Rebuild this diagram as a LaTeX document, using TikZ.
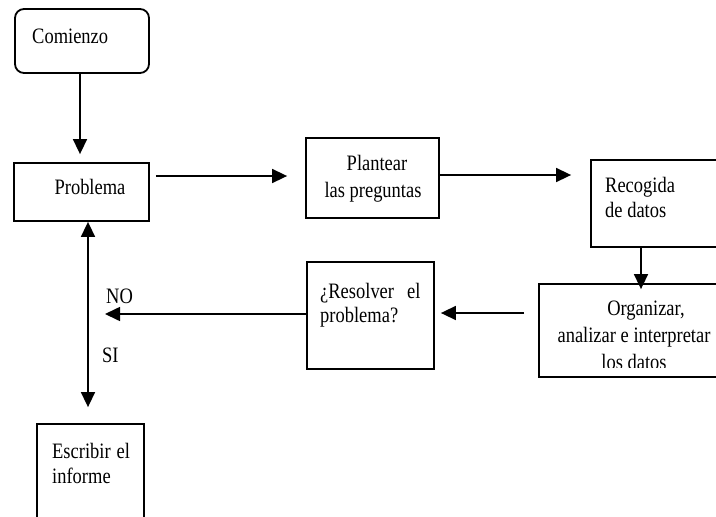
\documentclass[tikz,border=0pt]{standalone}
\usepackage{fontspec}
\setmainfont[FakeStretch=0.84]{Liberation Serif}
\usetikzlibrary{arrows.meta}

\tikzset{
  box/.style={draw=black, line width=1.8pt, inner sep=0pt},
  txt/.style={inner sep=0pt, font=\fontsize{22}{26}\selectfont},
  arr/.style={draw=black, line width=1.6pt, -{Triangle[length=15pt,width=14pt]}},
  biarr/.style={draw=black, line width=1.6pt, {Triangle[length=15pt,width=14pt]}-{Triangle[length=15pt,width=14pt]}}
}

\begin{document}
\begin{tikzpicture}[x=1pt,y=-1pt]
  \useasboundingbox (0,0) rectangle (716,517);
  \fill[white] (0,0) rectangle (716,517);
  \clip (0,0) rectangle (716,517);

  % boxes
  \node[box, rounded corners=9pt, minimum width=134pt, minimum height=64pt] (comienzo) at (82,41) {};
  \node[box, minimum width=135pt, minimum height=58pt] (problema) at (81.5,192) {};
  \node[box, minimum width=133pt, minimum height=80pt] (plantear) at (372.5,178) {};
  \node[box, minimum width=149pt, minimum height=87pt] (recogida) at (665.5,203.5) {};
  \node[box, minimum width=201pt, minimum height=93pt] (organizar) at (639.5,330.5) {};
  \node[box, minimum width=127pt, minimum height=107pt] (resolver) at (370.5,315.5) {};
  \node[box, minimum width=107pt, minimum height=116pt] (escribir) at (90.5,482) {};

  % box texts (multi-line nodes are anchored at the baseline of their last line)
  \node[txt, anchor=base west] (tcomienzo) at (32,43) {Comienzo};
  \node[txt, anchor=base] (tproblema) at (90,194) {Problema};
  \node[txt, anchor=base, align=center, font=\fontsize{22}{27}\selectfont] (tplantear) at (373,197) {\hspace*{8pt}Plantear\\las preguntas};
  \node[txt, anchor=base west, align=left, font=\fontsize{22}{25}\selectfont] (trecogida) at (605,217) {Recogida\\de datos};
  \begin{scope}
    \clip (540,285) rectangle (716,367);
    \node[txt, anchor=base, align=center, font=\fontsize{22}{27}\selectfont] (torganizar) at (634,369) {\hspace*{24pt}Organizar,\\analizar e interpretar\\los datos};
  \end{scope}
  \node[txt, anchor=base west, align=left, font=\fontsize{22}{24}\selectfont] (tresolver) at (320,322) {¿Resolver\hspace{13pt}el\\problema?};
  \node[txt, anchor=base west, align=left, font=\fontsize{22}{25}\selectfont] (tescribir) at (52,483) {Escribir\hspace{6pt}el\\informe};

  % branch labels
  \node[txt, anchor=base west] (no) at (106,303) {NO};
  \node[txt, anchor=base west] (si) at (102,362) {SI};

  % connectors
  \coordinate (noend) at (105,314);
  \draw[arr, shorten >=8pt] ([xshift=-2pt]comienzo.south) -- ([xshift=-1.5pt]problema.north);
  \draw[arr, shorten <=6pt, shorten >=18pt] ([yshift=16pt]problema.east) -- ([yshift=2pt]plantear.west);
  \draw[arr, shorten >=19pt] ([yshift=3pt]plantear.east) -- ([yshift=28.5pt]recogida.west);
  \draw[arr, shorten >=-6pt] ([xshift=-24.5pt]recogida.south) -- ([xshift=1.5pt]organizar.north);
  \draw[arr, shorten <=14pt, shorten >=6pt] ([yshift=17.5pt]organizar.west) -- ([yshift=2.5pt]resolver.east);
  \draw[arr] ([yshift=1.5pt]resolver.west) -- (noend);
  \draw[biarr, shorten >=16pt] ([xshift=6.5pt]problema.south) -- ([xshift=-2.5pt]escribir.north);
\end{tikzpicture}
\end{document}
